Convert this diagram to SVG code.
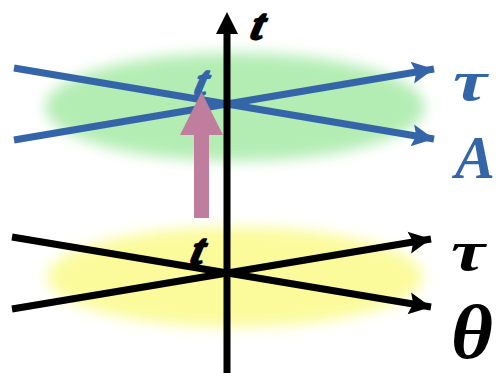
<svg xmlns="http://www.w3.org/2000/svg" width="496" height="373" viewBox="0 0 496 373">
<defs>
<filter id="blur" x="-20%" y="-50%" width="140%" height="200%"><feGaussianBlur stdDeviation="7"/></filter>
<marker id="ahB" markerUnits="userSpaceOnUse" markerWidth="24" markerHeight="24" refX="22" refY="12" orient="auto" viewBox="0 0 24 24"><path d="M0,1 L22,12 L0,23 L4,12 Z" fill="#3465a8"/></marker>
<marker id="ahK" markerUnits="userSpaceOnUse" markerWidth="24" markerHeight="24" refX="22" refY="12" orient="auto" viewBox="0 0 24 24"><path d="M0,1 L22,12 L0,23 L4,12 Z" fill="#000"/></marker>
<style>
.lbl{font-family:"Liberation Serif","DejaVu Serif",serif;font-weight:bold;font-style:italic}
.tt{stroke-width:2.2;stroke-linejoin:round}
.blue{fill:#3465a8}
.blk{fill:#000}
.tt.blue{stroke:#3465a8}
.tt.blk{stroke:#000}
.lb{stroke:#3465a8;stroke-width:7;fill:none}
.lk{stroke:#000;stroke-width:7;fill:none}
</style>
</defs>
<g id="green-plane"><ellipse cx="235" cy="107" rx="190" ry="54" fill="#b4edb4" filter="url(#blur)"/></g>
<g id="yellow-plane"><ellipse cx="235" cy="277" rx="188" ry="50" fill="#fbfb9c" filter="url(#blur)"/></g>
<g id="connectors">
<line class="lk" x1="12" y1="237" x2="431" y2="307" marker-end="url(#ahK)"/>
<line class="lk" x1="12" y1="309" x2="431" y2="239" marker-end="url(#ahK)"/>
<line class="lb" x1="14" y1="68" x2="434" y2="139" marker-end="url(#ahB)"/>
<line class="lb" x1="14" y1="140" x2="434" y2="69" marker-end="url(#ahB)"/>
</g>
<g id="labels">
<text class="lbl tt blk" font-size="44" transform="translate(249,39) skewX(-14)">t</text>
<text class="lbl tt blue" font-size="42" transform="translate(193,95) skewX(-14)">t</text>
<text class="lbl tt blk" font-size="44" transform="translate(189,264) skewX(-14)">t</text>
<text class="lbl blue" x="453" y="100" font-size="56" textLength="34" lengthAdjust="spacingAndGlyphs">τ</text>
<text class="lbl blue" x="455" y="178" font-size="62" textLength="40" lengthAdjust="spacingAndGlyphs">A</text>
<text class="lbl blk" x="451" y="270" font-size="56" textLength="34" lengthAdjust="spacingAndGlyphs">τ</text>
<text class="lbl blk" x="451" y="358" font-size="76" textLength="42" lengthAdjust="spacingAndGlyphs">θ</text>
</g>
<g id="transition-arrow"><path d="M194,218 L209,218 L209,135 L223,135 L201.5,92 L180,135 L194,135 Z" fill="#bf7e9e"/></g>
<g id="t-axis">
<line x1="227" y1="373" x2="227" y2="30" stroke="#000" stroke-width="7"/>
<path d="M227,12 L238,34 L216,34 Z" fill="#000"/>
</g>
</svg>
